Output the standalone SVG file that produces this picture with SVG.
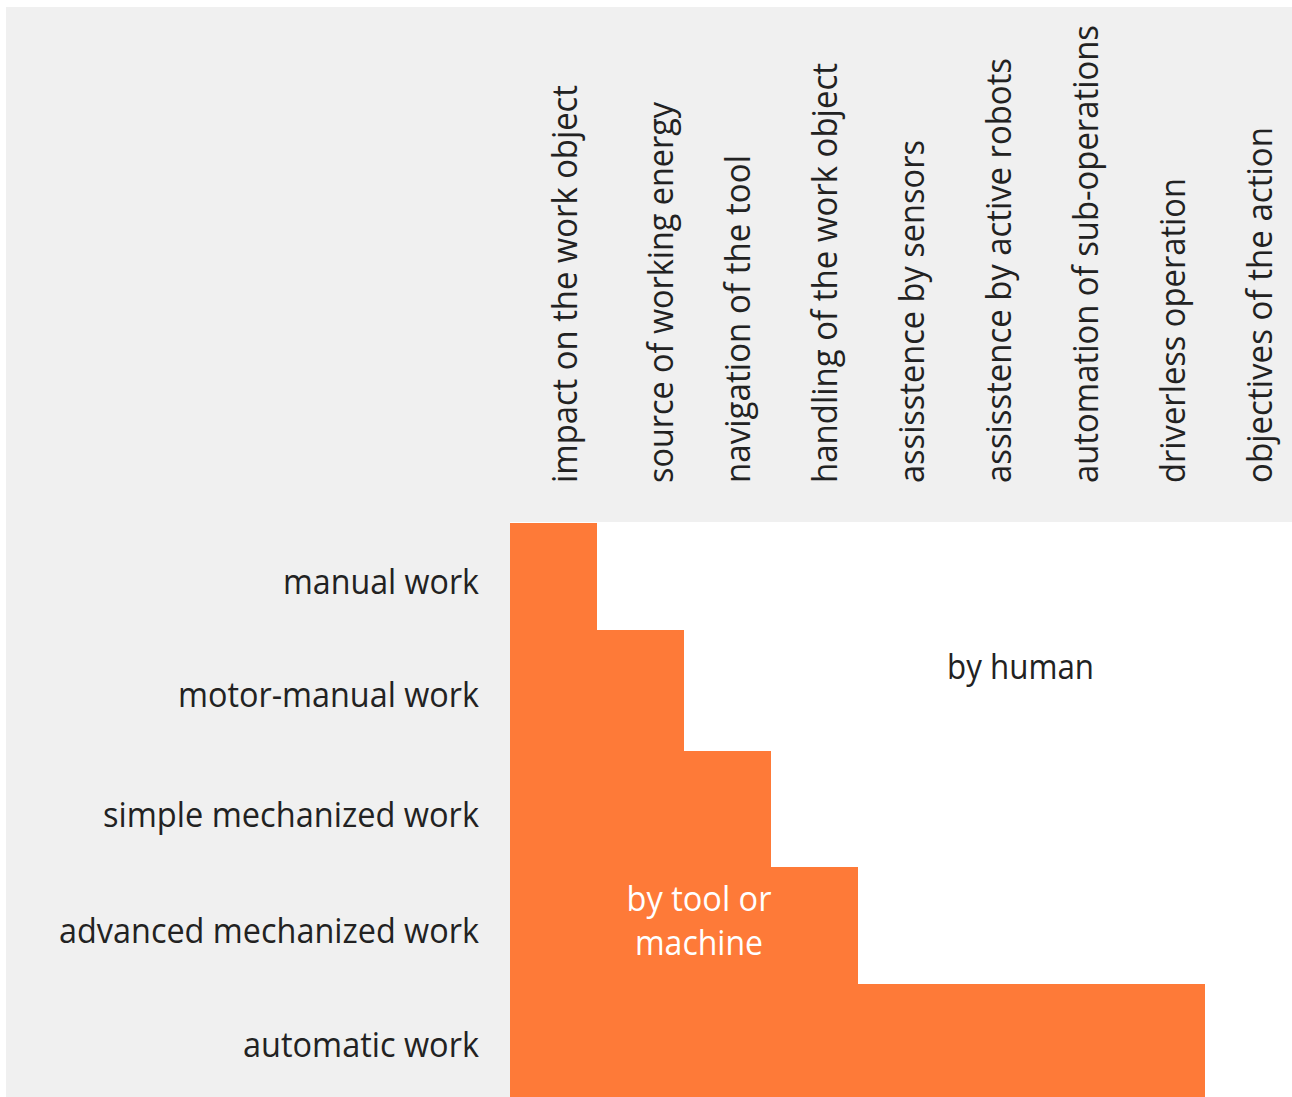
<svg xmlns="http://www.w3.org/2000/svg" width="1292" height="1097" viewBox="0 0 1292 1097">
<style>
text{font-family:"Open Sans","Noto Sans","Liberation Sans",sans-serif;font-size:35px;fill:#222}
.r{text-anchor:end}
.w{fill:#fff;text-anchor:middle}
</style>
<rect width="1292" height="1097" fill="#fff"/>
<g id="background">
<rect x="6" y="7" width="1286" height="515" fill="#f0f0f0"/>
<rect x="6" y="522" width="504" height="575" fill="#f0f0f0"/>
</g>
<g id="area-machine">
<path d="M510,523 H597 V630 H684 V751 H771 V867 H858 V984 H1205 V1097 H510 Z" fill="#fe7a38"/>
<text class="w" x="699" y="911" textLength="145" lengthAdjust="spacingAndGlyphs">by tool or</text>
<text class="w" x="699" y="955" textLength="128" lengthAdjust="spacingAndGlyphs">machine</text>
</g>
<g id="area-human">
<text x="947" y="679" textLength="147" lengthAdjust="spacingAndGlyphs">by human</text>
</g>
<g id="columns">
<text transform="translate(577,483) rotate(-90)" textLength="398" lengthAdjust="spacingAndGlyphs">impact on the work object</text>
<text transform="translate(673,483) rotate(-90)" textLength="381" lengthAdjust="spacingAndGlyphs">source of working energy</text>
<text transform="translate(750,483) rotate(-90)" textLength="328" lengthAdjust="spacingAndGlyphs">navigation of the tool</text>
<text transform="translate(837,483) rotate(-90)" textLength="420" lengthAdjust="spacingAndGlyphs">handling of the work object</text>
<text transform="translate(924,483) rotate(-90)" textLength="343" lengthAdjust="spacingAndGlyphs">assisstence by sensors</text>
<text transform="translate(1011,483) rotate(-90)" textLength="425" lengthAdjust="spacingAndGlyphs">assisstence by active robots</text>
<text transform="translate(1098,483) rotate(-90)" textLength="458" lengthAdjust="spacingAndGlyphs">automation of sub-operations</text>
<text transform="translate(1185,483) rotate(-90)" textLength="305" lengthAdjust="spacingAndGlyphs">driverless operation</text>
<text transform="translate(1272,483) rotate(-90)" textLength="356" lengthAdjust="spacingAndGlyphs">objectives of the action</text>
</g>
<g id="rows">
<text x="283" y="594" textLength="196" lengthAdjust="spacingAndGlyphs">manual work</text>
<text x="178" y="707" textLength="301" lengthAdjust="spacingAndGlyphs">motor-manual work</text>
<text x="103" y="827" textLength="376" lengthAdjust="spacingAndGlyphs">simple mechanized work</text>
<text x="59" y="943" textLength="420" lengthAdjust="spacingAndGlyphs">advanced mechanized work</text>
<text x="243" y="1057" textLength="236" lengthAdjust="spacingAndGlyphs">automatic work</text>
</g>
<g id="connectors"></g>
</svg>
